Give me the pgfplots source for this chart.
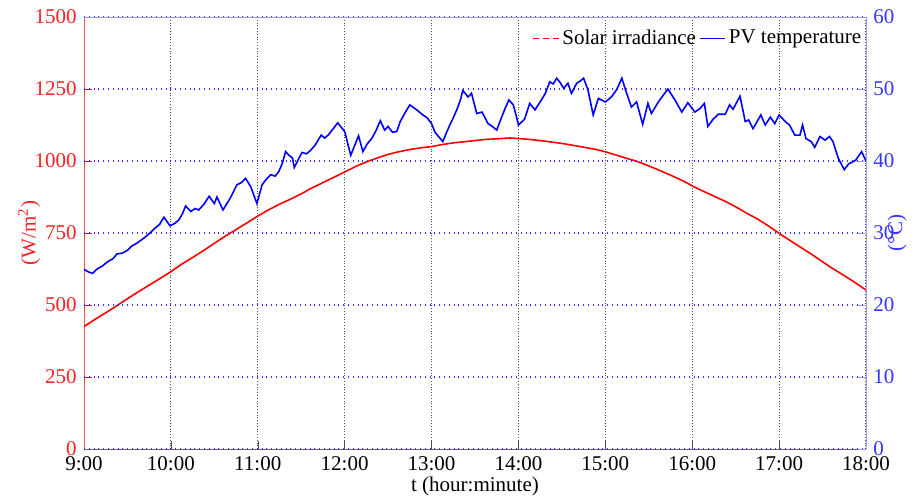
\documentclass[border=0pt]{standalone}
\usepackage{pgfplots}
\pgfplotsset{compat=1.18}
\usepackage{fontspec}
\setmainfont{Liberation Serif}
\definecolor{irr}{HTML}{FF0000}
\definecolor{irrtxt}{HTML}{FF2020}
\definecolor{pvt}{HTML}{0000FF}
\definecolor{pvttxt}{HTML}{3535FF}
\definecolor{pvtaxis}{HTML}{9A9AFF}
\definecolor{gridblue}{HTML}{3030FF}

% solar irradiance (W/m^2)
\pgfplotstableread{
t G
9.00 425
9.12 449
9.25 473
9.38 498
9.50 522
9.62 545
9.75 569
9.88 593
10.00 616
10.12 641
10.25 665
10.38 690
10.50 714
10.62 738
10.75 762
10.88 786
11.00 809
11.12 830
11.25 850
11.38 868
11.50 886
11.62 906
11.75 925
11.88 944
12.00 962
12.12 980
12.25 997
12.38 1011
12.50 1023
12.62 1032
12.75 1040
12.88 1046
13.00 1050
13.12 1057
13.25 1063
13.38 1067
13.50 1071
13.62 1075
13.75 1077
13.90 1080
14.00 1078
14.12 1075
14.25 1071
14.38 1066
14.50 1061
14.62 1055
14.75 1048
14.88 1041
15.00 1032
15.12 1021
15.25 1009
15.38 997
15.50 983
15.62 968
15.75 951
15.88 933
16.00 914
16.12 896
16.25 878
16.38 860
16.50 841
16.62 820
16.75 799
16.88 774
17.00 749
17.12 725
17.25 700
17.38 675
17.50 650
17.62 626
17.75 602
17.88 577
18.00 552
}\irradiance

% PV temperature (deg C)
\pgfplotstableread{
t T
9.00 24.95
9.05 24.6
9.10 24.4
9.15 25.0
9.21 25.4
9.27 26.0
9.33 26.4
9.38 27.1
9.44 27.2
9.50 27.6
9.55 28.2
9.61 28.6
9.69 29.3
9.75 29.9
9.81 30.6
9.87 31.2
9.92 32.2
9.99 31.0
10.04 31.3
10.09 31.8
10.13 32.6
10.17 33.75
10.23 33.0
10.28 33.4
10.32 33.2
10.38 34.0
10.44 35.1
10.50 34.1
10.53 35.0
10.60 33.2
10.65 34.2
10.69 35.0
10.76 36.7
10.81 37.0
10.86 37.6
10.92 36.4
10.99 34.1
11.05 36.7
11.10 37.5
11.15 38.1
11.20 37.9
11.24 38.5
11.28 39.6
11.32 41.3
11.36 40.8
11.40 40.4
11.42 39.1
11.47 40.3
11.51 41.2
11.56 41.0
11.61 41.5
11.66 42.2
11.73 43.6
11.77 43.2
11.81 43.6
11.87 44.5
11.92 45.3
12.00 44.1
12.07 40.8
12.11 42.0
12.16 43.5
12.21 41.3
12.26 42.4
12.31 43.1
12.36 44.2
12.41 45.6
12.46 44.3
12.50 44.8
12.55 44.0
12.60 44.1
12.64 45.5
12.70 46.8
12.75 47.8
12.83 47.1
12.90 46.4
12.95 46.0
13.00 45.2
13.04 44.0
13.08 43.4
13.13 42.7
13.17 43.9
13.21 45.0
13.25 46.0
13.29 47.1
13.33 48.4
13.36 49.8
13.42 48.9
13.46 49.4
13.52 46.6
13.58 46.8
13.62 45.9
13.65 45.2
13.70 44.8
13.75 44.3
13.81 46.2
13.85 47.4
13.89 48.5
13.94 47.8
13.97 46.5
14.00 45.0
14.07 45.8
14.13 48.0
14.19 47.1
14.25 48.2
14.31 49.4
14.36 51.0
14.40 50.7
14.44 51.5
14.48 50.9
14.52 50.1
14.57 50.8
14.61 49.4
14.67 50.8
14.71 51.1
14.75 51.5
14.80 49.9
14.86 46.4
14.92 48.7
15.00 48.2
15.07 48.9
15.13 49.9
15.19 51.5
15.24 49.6
15.30 47.5
15.36 48.2
15.43 45.1
15.49 48.0
15.53 46.6
15.61 48.2
15.67 49.2
15.72 50.0
15.80 48.5
15.88 46.8
15.95 48.1
16.03 46.8
16.09 47.3
16.14 48.0
16.18 44.8
16.24 45.8
16.30 46.5
16.38 46.5
16.43 47.8
16.47 47.2
16.55 49.0
16.61 45.5
16.65 45.7
16.70 44.5
16.79 46.4
16.84 45.0
16.90 46.1
16.95 45.2
17.00 46.4
17.07 45.5
17.12 45.0
17.18 43.6
17.24 43.6
17.27 45.0
17.31 43.1
17.37 42.7
17.41 41.9
17.47 43.4
17.53 42.9
17.58 43.4
17.62 42.7
17.68 40.4
17.75 38.8
17.80 39.6
17.88 40.1
17.95 41.3
18.00 40.0
}\pvtemp

\begin{document}
\fontsize{10.5}{12}\selectfont
\begin{tikzpicture}
  \useasboundingbox (-42pt,-23pt) rectangle (415pt,224.5pt);
  % left axis: irradiance
  \begin{axis}[
      at={(0,0)}, anchor=south west,
      scale only axis,
      width=391pt, height=216pt,
      xmin=9, xmax=18, ymin=0, ymax=1500,
      axis x line*=bottom, axis y line*=left,
      xtick={9,...,18},
      xticklabels={9:00,10:00,11:00,12:00,13:00,14:00,15:00,16:00,17:00,18:00},
      ytick={0,250,...,1500},
      tick align=inside,
      major tick length=4pt,
      xmajorgrids,
      x grid style={black!70, densely dotted, line width=0.5pt},
      x axis line style={black!60, -},
      y axis line style={irr!70, -},
      xtick style={black!70},
      ytick style={irr},
      yticklabel style={text=irrtxt, font=\fontsize{10.5}{12}\selectfont},
      xticklabel style={font=\fontsize{10.5}{12}\selectfont},
      /pgf/number format/assume math mode=true,
      /pgf/number format/1000 sep={},
      xlabel={t (hour:minute)},
      ylabel={(W/m\textsuperscript{2})},
      ylabel style={text=irrtxt, yshift=-10pt},
      xlabel style={yshift=4pt},
    ]
    \addplot[irr, line width=0.8pt] table[x=t, y=G] {\irradiance};
  \end{axis}
  % right axis: PV temperature
  \begin{axis}[
      at={(0,0)}, anchor=south west,
      scale only axis,
      width=391pt, height=216pt,
      xmin=9, xmax=18, ymin=0, ymax=60,
      axis x line*=top, axis y line*=right,
      xtick=\empty,
      ytick={0,10,...,60},
      tick align=inside,
      major tick length=4pt,
      ymajorgrids,
      y grid style={gridblue, dotted, line width=0.6pt},
      axis line style={pvtaxis, -},
      ytick style={pvtaxis},
      yticklabel style={text=pvttxt, font=\fontsize{10.5}{12}\selectfont},
      /pgf/number format/assume math mode=true,
      ylabel={(°C)},
      ylabel style={text=pvttxt, at={(axis description cs:1.0396,0.5)},
        anchor=center},
      legend style={at={(rel axis cs:1.006,0.99)}, anchor=north east,
        draw=none, fill=none, font=\fontsize{10.5}{12}\selectfont,
        nodes={inner xsep=1.5pt},
        /tikz/every even column/.append style={column sep=0pt}},
      legend columns=2,
      legend cell align=left,
    ]
    \addlegendimage{legend image code/.code={\draw[irr, densely dashed, line width=0.6pt] (0cm,0cm) -- (0.45cm,0cm);}}
    \addlegendentry{Solar irradiance}
    \addplot[pvt, line width=0.8pt,
      legend image code/.code={\draw[pvt, line width=0.7pt] (0cm,0cm) -- (0.45cm,0cm);}]
      table[x=t, y=T] {\pvtemp};
    \addlegendentry{PV temperature}
  \end{axis}
\end{tikzpicture}
\end{document}
